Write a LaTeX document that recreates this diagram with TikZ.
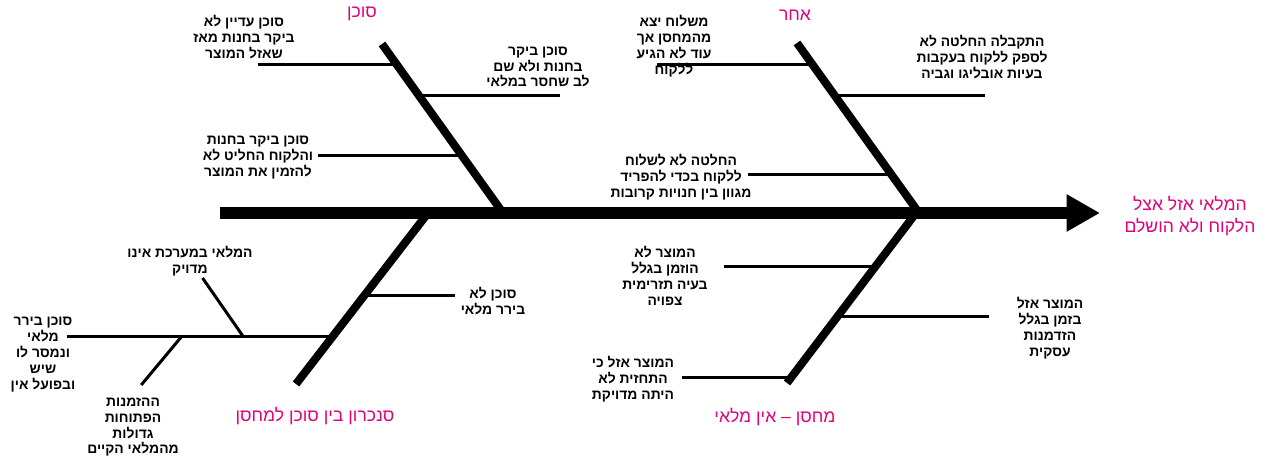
\documentclass[tikz,border=0pt]{standalone}
\usepackage{fontspec}
\usetikzlibrary{calc,arrows.meta}
\TeXXeTstate=1
\newfontfamily\hebfont[Script=Hebrew]{Liberation Sans}
\definecolor{catpink}{RGB}{226,0,122}
\newcommand{\rl}[1]{\beginR#1\endR}

\tikzset{
  spine/.style={line width=7pt,-{Triangle[length=19pt,width=20pt]}},
  bone/.style={line width=4.6pt},
  twig/.style={line width=1.7pt},
  cause/.style={font=\hebfont\bfseries\fontsize{7.9}{9.1}\selectfont,align=center,inner sep=0pt},
  cat/.style={font=\hebfont\fontsize{10}{13}\selectfont,text=catpink,align=center,inner sep=0pt},
}

\begin{document}
\begin{tikzpicture}[x=0.02cm,y=-0.02cm]
  \useasboundingbox (0,0) rectangle (1276,462);

  % spine and effect
  \coordinate (tail) at (220,213);
  \coordinate (tip) at (1100,213);
  \draw[spine] (tail) -- (tip);
  \node[cat] (effect) at (1190,216) {\rl{המלאי אזל אצל}\\\rl{הלקוח ולא הושלם}};

  % the four bones
  \coordinate (sTop) at (382,44);  \coordinate (sBot) at (503,213);
  \coordinate (aTop) at (797,43);  \coordinate (aBot) at (919,213);
  \coordinate (lTop) at (428,213); \coordinate (lBot) at (296,384);
  \coordinate (mTop) at (916,213); \coordinate (mBot) at (787,383);
  \draw[bone] (sTop) -- (sBot);
  \draw[bone] (aTop) -- (aBot);
  \draw[bone] (lTop) -- (lBot);
  \draw[bone] (mTop) -- (mBot);

  \node[cat] (catS) at (362,14) {\rl{סוכן}};
  \node[cat] (catA) at (795,15) {\rl{אחר}};
  \node[cat] (catL) at (315,416) {\rl{סנכרון בין סוכן למחסן}};
  \node[cat] (catM) at (775,417) {\rl{מחסן – אין מלאי}};

  % סוכן
  \coordinate (s1) at ($(sTop)!0.124!(sBot)$);
  \coordinate (s2) at ($(sTop)!0.302!(sBot)$);
  \coordinate (s3) at ($(sTop)!0.657!(sBot)$);
  \draw[twig] (s1) -- ++(-139,0) coordinate (s1e);
  \draw[twig] (s2) -- ++(141,0) coordinate (s2e);
  \draw[twig] (s3) -- ++(-143,0) coordinate (s3e);
  \node[cause] (t1) at (244,37) {\rl{סוכן עדיין לא}\\\rl{ביקר בחנות מאז}\\\rl{שאזל המוצר}};
  \node[cause] (t2) at (538,67) {\rl{סוכן ביקר}\\\rl{בחנות ולא שם}\\\rl{לב שחסר במלאי}};
  \node[cause] (t3) at (258,158) {\rl{סוכן ביקר בחנות}\\\rl{והלקוח החליט לא}\\\rl{להזמין את המוצר}};

  % אחר
  \coordinate (a1) at ($(aTop)!0.129!(aBot)$);
  \coordinate (a2) at ($(aTop)!0.306!(aBot)$);
  \coordinate (a3) at ($(aTop)!0.776!(aBot)$);
  \node[cause] (t4) at (674,46) {\rl{משלוח יצא}\\\rl{מהמחסן אך}\\\rl{עוד לא הגיע}\\\rl{ללקוח}};
  \draw[twig] (a1) -- ++(-156,0) coordinate (a1e);
  \draw[twig] (a2) -- ++(151,0) coordinate (a2e);
  \draw[twig] (a3) -- ++(-144,0) coordinate (a3e);
  \node[cause] (t5) at (982,57) {\rl{התקבלה החלטה לא}\\\rl{לספק ללקוח בעקבות}\\\rl{בעיות אובליגו וגביה}};
  \node[cause] (t6) at (681,177) {\rl{החלטה לא לשלוח}\\\rl{ללקוח בכדי להפריד}\\\rl{מגוון בין חנויות קרובות}};

  % סנכרון
  \coordinate (l1) at ($(lTop)!0.48!(lBot)$);
  \coordinate (l2) at ($(lTop)!0.725!(lBot)$);
  \draw[twig] (l1) -- ++(90,0) coordinate (l1e);
  \draw[twig] (l2) -- ++(-265,0) coordinate (l2e);
  \coordinate (l2a) at ($(l2)!0.335!(l2e)$);
  \coordinate (l2b) at ($(l2)!0.57!(l2e)$);
  \draw[twig] (l2a) -- ++(-41,-59) coordinate (l2ae);
  \draw[twig] (l2b) -- ++(-40,48) coordinate (l2be);
  \node[cause] (t7) at (190,261) {\rl{המלאי במערכת אינו}\\\rl{מדויק}};
  \node[cause] (t8) at (493,301) {\rl{סוכן לא}\\\rl{בירר מלאי}};
  \node[cause] (t9) at (43,355) {\rl{סוכן בירר}\\\rl{מלאי}\\\rl{ונמסר לו}\\\rl{שיש}\\\rl{ובפועל אין}};
  \node[cause] (t10) at (133,427) {\rl{ההזמנות}\\\rl{הפתוחות}\\\rl{גדולות}\\\rl{מהמלאי הקיים}};

  % מחסן
  \coordinate (m1) at ($(mTop)!0.312!(mBot)$);
  \coordinate (m2) at ($(mTop)!0.606!(mBot)$);
  \coordinate (m3) at ($(mTop)!0.965!(mBot)$);
  \draw[twig] (m1) -- ++(-152,0) coordinate (m1e);
  \draw[twig] (m2) -- ++(151,0) coordinate (m2e);
  \draw[twig] (m3) -- ++(-110,0) coordinate (m3e);
  \node[cause] (t11) at (665,276) {\rl{המוצר לא}\\\rl{הוזמן בגלל}\\\rl{בעיה תזרימית}\\\rl{צפויה}};
  \node[cause] (t12) at (633,379) {\rl{המוצר אזל כי}\\\rl{התחזית לא}\\\rl{היתה מדויקת}};
  \node[cause] (t13) at (1050,328) {\rl{המוצר אזל}\\\rl{בזמן בגלל}\\\rl{הזדמנות}\\\rl{עסקית}};
\end{tikzpicture}
\end{document}
